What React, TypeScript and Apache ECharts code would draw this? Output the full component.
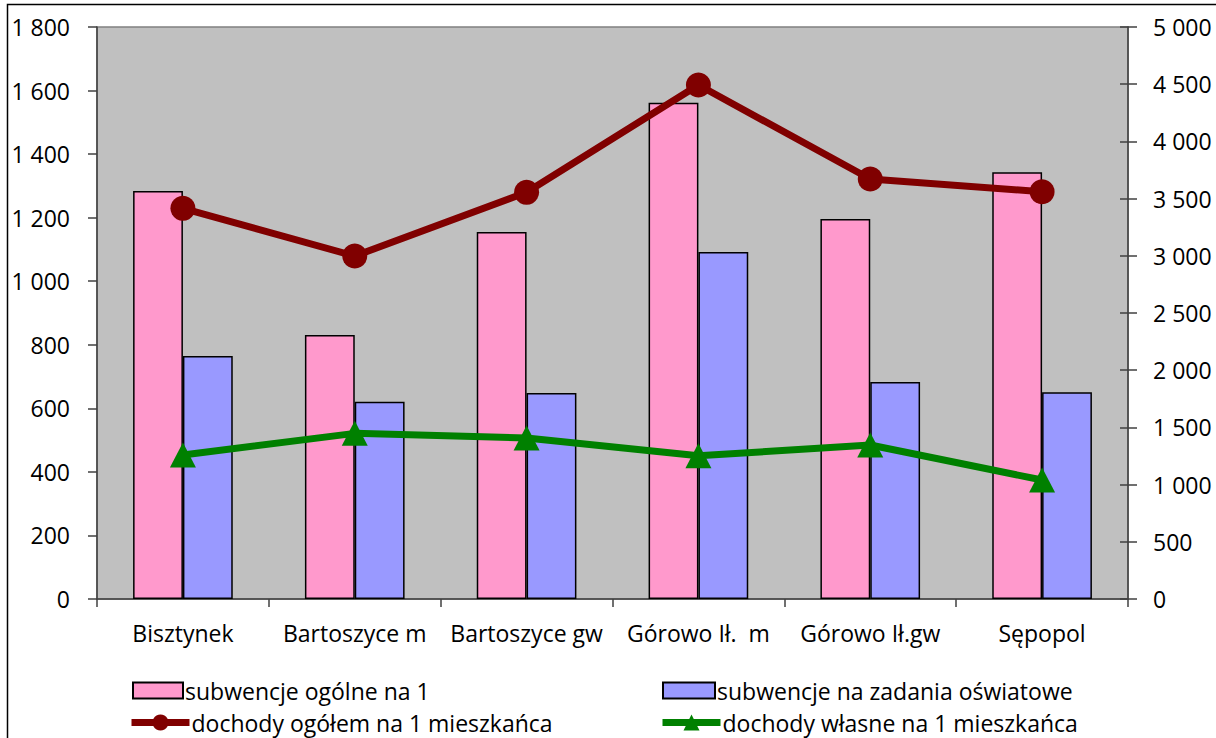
import React, { useEffect, useRef } from "react";
import * as echarts from "echarts";

const categories = ["Bisztynek", "Bartoszyce m", "Bartoszyce gw", "Górowo Ił.  m", "Górowo Ił.gw", "Sępopol"];
const subwencjeOgolne = [1284, 831, 1155, 1562, 1196, 1343];
const subwencjeOswiatowe = [765, 621, 648, 1092, 683, 651];
const dochodyOgolem = [3415, 2998, 3555, 4493, 3671, 3560];
const dochodyWlasne = [1259, 1448, 1407, 1252, 1346, 1040];

const seriesNames = [
  "subwencje ogólne na 1",
  "subwencje na zadania oświatowe",
  "dochody ogółem na 1 mieszkańca",
  "dochody własne na 1 mieszkańca",
];

const FONT = "'Open Sans', 'Noto Sans', sans-serif";
const FS = 23;

const fmt = (v: number) => {
  const s = String(Math.round(v));
  return s.replace(/\B(?=(\d{3})+(?!\d))/g, " ");
};

export default function App() {
  const ref = useRef<HTMLDivElement>(null);
  useEffect(() => {
    if (!ref.current) return;
    const chart = echarts.init(ref.current, null, { renderer: "svg" });
    const txt = { color: "#000", fontFamily: FONT, fontSize: FS };
    const legendBase = {
      orient: "horizontal" as const,
      itemGap: 4,
      textStyle: { ...txt, padding: [0, 0, 0, -3] },
      selectedMode: false,
      padding: 0,
    };
    chart.setOption({
      animation: false,
      backgroundColor: "#fff",
      graphic: [
        {
          type: "rect",
          shape: { x: 7.5, y: 4.5, width: 1240, height: 780 },
          style: { fill: "none", stroke: "#000", lineWidth: 1.5 },
          silent: true,
        },
      ],
      grid: {
        left: 97,
        top: 27,
        right: 88,
        bottom: 139,
        show: true,
        backgroundColor: "#C0C0C0",
        borderColor: "#808080",
        borderWidth: 1.5,
      },
      legend: [
        { ...legendBase, left: 132, top: 679, icon: "rect", itemWidth: 50, itemHeight: 16, data: [seriesNames[0]] },
        { ...legendBase, left: 662, top: 679, icon: "rect", itemWidth: 52, itemHeight: 16, data: [seriesNames[1]] },
        { ...legendBase, left: 128, top: 711, itemWidth: 58, itemHeight: 20, lineStyle: { width: 7 }, data: [seriesNames[2]] },
        { ...legendBase, left: 659, top: 711, itemWidth: 58, itemHeight: 20, lineStyle: { width: 7 }, data: [seriesNames[3]] },
      ],
      xAxis: {
        type: "category",
        data: categories,
        axisLine: { lineStyle: { color: "#404040", width: 1.5 } },
        axisTick: { show: true, length: 8, lineStyle: { color: "#404040", width: 1.5 } },
        axisLabel: { ...txt, margin: 22, interval: 0 },
        splitLine: { show: false },
      },
      yAxis: [
        {
          type: "value",
          min: 0,
          max: 1800,
          interval: 200,
          position: "left",
          axisLine: { show: true, lineStyle: { color: "#404040", width: 1.5 } },
          axisTick: { show: true, length: 9, lineStyle: { color: "#404040", width: 1.5 } },
          axisLabel: { ...txt, margin: 27, formatter: fmt },
          splitLine: { show: false },
        },
        {
          type: "value",
          min: 0,
          max: 5000,
          interval: 500,
          position: "right",
          axisLine: { show: true, lineStyle: { color: "#404040", width: 1.5 } },
          axisTick: { show: true, length: 9, lineStyle: { color: "#404040", width: 1.5 } },
          axisLabel: { ...txt, margin: 25, formatter: fmt },
          splitLine: { show: false },
        },
        {
          type: "value",
          min: 0,
          max: 5000,
          interval: 500,
          position: "right",
          axisLine: { show: false },
          axisTick: { show: true, inside: true, length: 8, lineStyle: { color: "#404040", width: 1.5 } },
          axisLabel: { show: false },
          splitLine: { show: false },
        },
      ],
      series: [
        {
          name: seriesNames[0],
          type: "bar",
          yAxisIndex: 0,
          data: subwencjeOgolne,
          barGap: "0%",
          barCategoryGap: "42%",
          itemStyle: { color: "#FF99CC", borderColor: "#000", borderWidth: 1.5 },
        },
        {
          name: seriesNames[1],
          type: "bar",
          yAxisIndex: 0,
          data: subwencjeOswiatowe,
          barGap: "0%",
          barCategoryGap: "42%",
          itemStyle: { color: "#9999FF", borderColor: "#000", borderWidth: 1.5 },
        },
        {
          name: seriesNames[2],
          type: "line",
          yAxisIndex: 1,
          data: dochodyOgolem,
          symbol: "circle",
          symbolSize: 25,
          lineStyle: { color: "#800000", width: 7 },
          itemStyle: { color: "#800000" },
          z: 5,
        },
        {
          name: seriesNames[3],
          type: "line",
          yAxisIndex: 1,
          data: dochodyWlasne,
          symbol: "triangle",
          symbolSize: [26, 25],
          lineStyle: { color: "#008000", width: 7 },
          itemStyle: { color: "#008000" },
          z: 5,
        },
      ],
    });
    return () => chart.dispose();
  }, []);
  return (
    <div
      ref={ref}
      style={{ position: "fixed", left: 0, top: 0, width: 1216, height: 738 }}
    />
  );
}
